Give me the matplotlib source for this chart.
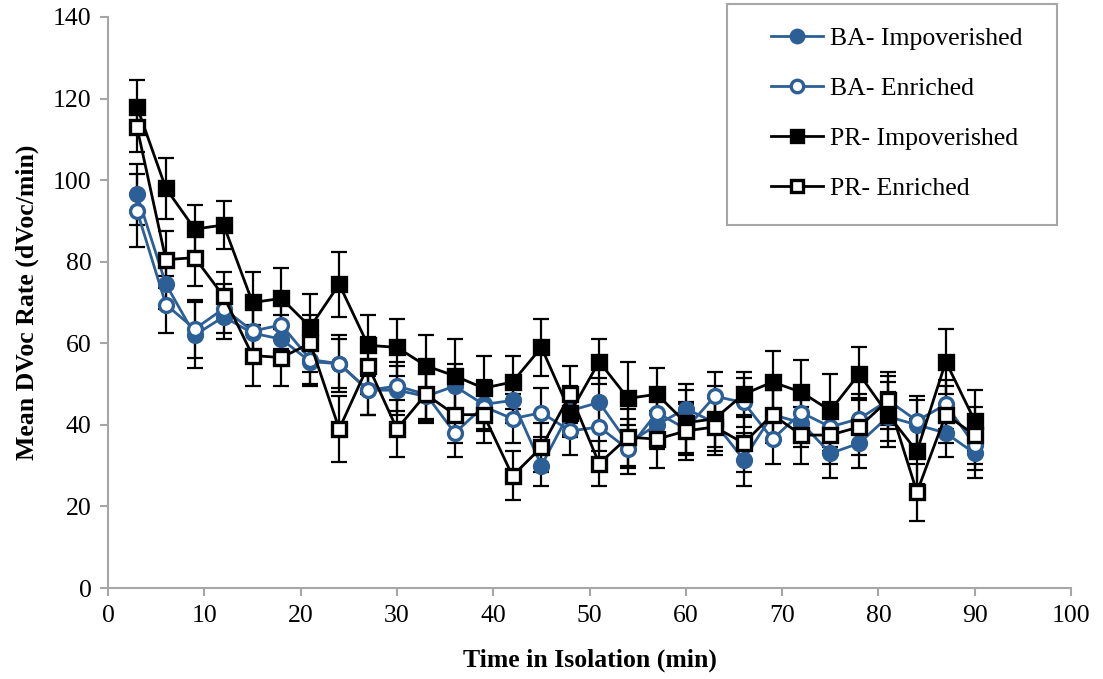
import numpy as np
import matplotlib.pyplot as plt
from matplotlib.patches import Rectangle

plt.rcParams['font.family'] = ['Liberation Serif', 'DejaVu Serif']

# Tempo em isolamento (min)
time_min = [3, 6, 9, 12, 15, 18, 21, 24, 27, 30, 33, 36, 39, 42, 45,
            48, 51, 54, 57, 60, 63, 66, 69, 72, 75, 78, 81, 84, 87, 90]

ba_impov = [96.5, 74.5, 62, 66.5, 62.5, 61, 55.5, 55, 48.5, 48.5, 47, 49.5, 45, 46, 30,
            43.5, 45.5, 35.5, 40, 44, 40.5, 31.5, 42.5, 40.5, 33, 35.5, 42, 40, 38, 33]
ba_impov_err = [7.5, 6, 8, 5.5, 6, 6, 6, 7, 6, 6, 6, 5.5, 6, 5.5, 5,
                6, 6, 6, 6, 6, 6, 6.5, 6, 6, 6, 6, 6, 6, 6, 6]

ba_enr = [92.5, 69.5, 63.5, 68.5, 63, 64.5, 56, 55, 48.5, 49.5, 47.5, 38, 44.5, 41.5, 43,
          38.5, 39.5, 34, 43, 39, 47, 45.5, 36.5, 43, 39.5, 41.5, 46, 41, 45, 35]
ba_enr_err = [9, 7, 7, 6, 6, 6, 6, 6, 6, 6, 6, 6, 6, 6, 6,
              6, 6, 6, 6, 6, 6, 6, 6, 6, 6, 6, 6, 6, 6, 6]

pr_impov = [118, 98, 88, 89, 70, 71, 64, 74.5, 59.5, 59, 54.5, 52, 49, 50.5, 59,
            43, 55.5, 46.5, 47.5, 40.5, 41.5, 47.5, 50.5, 48, 43.5, 52.5, 42.5, 33.5, 55.5, 41]
pr_impov_err = [6.5, 7.5, 6, 6, 7.5, 7.5, 8, 8, 7.5, 7, 7.5, 9, 8, 6.5, 7,
                6, 5.5, 9, 6.5, 8, 8, 5.5, 7.5, 8, 9, 6.5, 8, 8, 8, 7.5]

pr_enr = [113, 80.5, 81, 71.5, 57, 56.5, 60, 39, 54.5, 39, 47.5, 42.5, 42.5, 27.5, 34.5,
          47.5, 30.5, 37, 36.5, 38.5, 39.5, 35.5, 42.5, 37.5, 37.5, 39.5, 46, 23.5, 42.5, 37.5]
pr_enr_err = [6, 7, 7, 6, 7.5, 7, 7, 8, 7, 7, 7, 7, 7, 6, 6,
              7, 5.5, 7, 7, 7, 7, 7, 7, 7, 7, 7, 7, 7, 7, 7]

blue = '#2b5f95'

fig = plt.figure(figsize=(11.03, 6.79), dpi=100)
ax = fig.add_axes([0.098, 0.134, 0.873, 0.841])

series = [
    ('BA- Impoverished', ba_impov, ba_impov_err, blue, 'o', blue, 10),
    ('BA- Enriched', ba_enr, ba_enr_err, blue, 'o', 'white', 10),
    ('PR- Impoverished', pr_impov, pr_impov_err, 'black', 's', 'black', 10.5),
    ('PR- Enriched', pr_enr, pr_enr_err, 'black', 's', 'white', 10.5),
]

# barras de erro primeiro (sempre pretas)
for label, vals, errs, col, mk, mfc, ms in series:
    ax.errorbar(time_min, vals, yerr=errs, fmt='none', ecolor='black',
                elinewidth=1.6, capsize=6, capthick=1.6, zorder=1)

for label, vals, errs, col, mk, mfc, ms in series:
    ax.plot(time_min, vals, color=col, linewidth=2, marker=mk, markersize=ms,
            markerfacecolor=mfc, markeredgecolor=col, markeredgewidth=2.4,
            label=label, zorder=3)

ax.set_xlim(0, 100)
ax.set_ylim(0, 140)
ax.set_xticks(np.arange(0, 101, 10))
ax.set_yticks(np.arange(0, 141, 20))

for side in ['top', 'right']:
    ax.spines[side].set_visible(False)
for side in ['left', 'bottom']:
    ax.spines[side].set_color('#a6a6a6')
    ax.spines[side].set_linewidth(1.5)
ax.tick_params(axis='both', direction='out', length=6, width=1.5, color='#a6a6a6',
               labelsize=18.5, pad=6)

ax.set_xlabel('Time in Isolation (min)', fontsize=18.5, fontweight='bold', labelpad=16)
ax.set_ylabel('Mean DVoc Rate (dVoc/min)', fontsize=18.5, fontweight='bold', labelpad=10)

leg = ax.legend(loc='upper right', bbox_to_anchor=(0.974, 1.023), fontsize=18.5,
                frameon=False, handlelength=2.0, labelspacing=1.05,
                borderpad=0.9, handletextpad=0.3, borderaxespad=0)
for h in leg.legend_handles:
    h.set_markersize(9)

# moldura da legenda (mais larga que o conteudo, estilo Excel)
ax.add_patch(Rectangle((0.643, 0.636), 0.3425, 0.387, transform=ax.transAxes,
                       facecolor='none', edgecolor='#a6a6a6', linewidth=1.5,
                       clip_on=False, zorder=5))

fig.savefig('out.png', dpi=100)
